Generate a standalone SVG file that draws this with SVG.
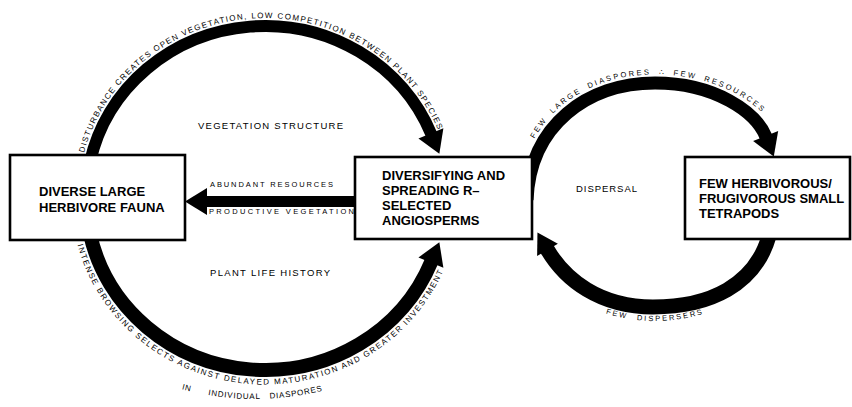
<svg xmlns="http://www.w3.org/2000/svg" width="852" height="407" viewBox="0 0 852 407">
<defs>
<style>
.box{fill:#fff;stroke:#000;stroke-width:2.6}
.bt{font-family:"Liberation Sans",Arial,sans-serif;font-weight:bold;font-size:13px;fill:#000}
.lbl{font-family:"Liberation Sans",Arial,sans-serif;font-size:9.5px;fill:#000}
.sm{font-family:"Liberation Sans",Arial,sans-serif;font-size:7.5px;fill:#000}
.arct{font-family:"Liberation Sans","DejaVu Sans",Arial,sans-serif;font-size:8px;fill:#000}
.rt{font-family:"Liberation Sans","DejaVu Sans",Arial,sans-serif;font-size:7.5px;fill:#000}
.conn{fill:none;stroke:#000;stroke-linecap:butt}
</style>
<marker id="ah" markerUnits="userSpaceOnUse" markerWidth="24" markerHeight="30" refX="0" refY="0" orient="auto" style="overflow:visible">
<path d="M-1,-13.5 L21,0 L-1,13.5 Z" fill="#000"/>
</marker>
<marker id="ahs" markerUnits="userSpaceOnUse" markerWidth="20" markerHeight="26" refX="0" refY="0" orient="auto" style="overflow:visible">
<path d="M-1,-12 L19,0 L-1,12 Z" fill="#000"/>
</marker>
<path id="tpTop" d="M84,152.9 A187,180 0 0 1 446,152.9"/>
<path id="tpBot1" d="M77.5,244.7 A193.7,186.7 0 0 0 452.5,244.7"/>
<path id="tpBot2" d="M140,375 Q255,423 370,375"/>
<path id="tpRTop" d="M518,200 C521,118 583,74.5 655,74.5 C720,74.5 765,106 776,132"/>
<path id="tpRBot" d="M585,306 Q655,336 725,306"/>
</defs>

<g id="connectors">
<path class="conn" d="M90,162 A179,172 0 0 1 431.3,134.3" stroke-width="12" marker-end="url(#ah)"/>
<path class="conn" d="M90,234 A179,172 0 0 0 431.3,261.7" stroke-width="14" marker-end="url(#ah)"/>
<path class="conn" d="M356,201.5 L206,201.5" stroke-width="11" marker-end="url(#ah)"/>
<path class="conn" d="M527,200 C530,125 588,83 655,83 C715,83 756,112 766,137" stroke-width="13" marker-end="url(#ah)"/>
<path class="conn" d="M769,236 C755,285 710,307 653,307 C600,307 565,280 547,249" stroke-width="15" marker-end="url(#ahs)"/>

<text class="arct" letter-spacing="1.35"><textPath href="#tpTop">DISTURBANCE CREATES OPEN VEGETATION, LOW COMPETITION BETWEEN PLANT SPECIES</textPath></text>
<text class="arct" letter-spacing="1.52"><textPath href="#tpBot1">INTENSE BROWSING SELECTS AGAINST DELAYED MATURATION AND GREATER INVESTMENT</textPath></text>
<text class="arct" letter-spacing="0.8"><textPath href="#tpBot2" startOffset="44">IN</textPath></text>
<text class="arct" letter-spacing="0.8"><textPath href="#tpBot2" startOffset="71">INDIVIDUAL</textPath></text>
<text class="arct" letter-spacing="0.8"><textPath href="#tpBot2" startOffset="133">DIASPORES</textPath></text>
<text class="rt" letter-spacing="2.3" word-spacing="3"><textPath href="#tpRTop" startOffset="64">FEW LARGE DIASPORES ∴ FEW RESOURCES</textPath></text>
<text class="rt" letter-spacing="2" word-spacing="5" text-anchor="middle"><textPath href="#tpRBot" startOffset="50%">FEW DISPERSERS</textPath></text>

<text class="sm" x="210" y="187" textLength="123" lengthAdjust="spacing">ABUNDANT RESOURCES</text>
<text class="sm" x="209" y="214" textLength="145" lengthAdjust="spacing">PRODUCTIVE VEGETATION</text>
</g>

<g id="node-fauna">
<rect class="box" x="10" y="155" width="175" height="85"/>
<text class="bt" x="39" y="196">DIVERSE LARGE</text>
<text class="bt" x="39" y="212">HERBIVORE FAUNA</text>
</g>

<g id="node-angiosperms">
<rect class="box" x="355" y="157" width="177" height="82"/>
<text class="bt" x="382" y="180">DIVERSIFYING AND</text>
<text class="bt" x="382" y="195">SPREADING R–</text>
<text class="bt" x="382" y="210">SELECTED</text>
<text class="bt" x="382" y="225">ANGIOSPERMS</text>
</g>

<g id="node-tetrapods">
<rect class="box" x="685" y="157" width="165" height="82"/>
<text class="bt" x="699" y="188">FEW HERBIVOROUS/</text>
<text class="bt" x="699" y="203">FRUGIVOROUS SMALL</text>
<text class="bt" x="699" y="218">TETRAPODS</text>
</g>

<g id="labels">
<text class="lbl" x="198" y="129" textLength="145" lengthAdjust="spacing">VEGETATION STRUCTURE</text>
<text class="lbl" x="210" y="276" textLength="120" lengthAdjust="spacing">PLANT LIFE HISTORY</text>
<text class="lbl" x="576" y="192" textLength="61" lengthAdjust="spacing">DISPERSAL</text>
</g>
</svg>
